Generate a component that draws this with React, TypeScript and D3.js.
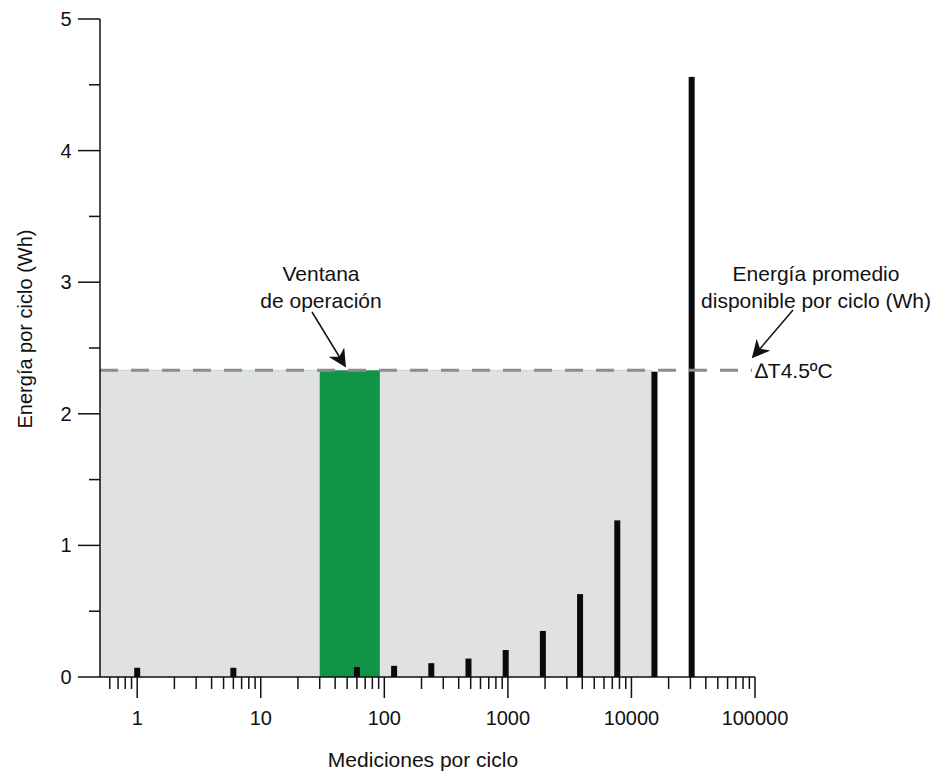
import React, { useEffect, useRef } from 'react';
import * as d3 from 'd3';

// mediciones por ciclo vs energía consumida por ciclo (Wh)
const measurements = [1, 6, 60, 120, 240, 480, 960, 1920, 3840, 7680, 15360, 30720];
const energy = [0.07, 0.07, 0.075, 0.085, 0.105, 0.14, 0.205, 0.35, 0.63, 1.19, 2.32, 4.56];
const availableEnergy = 2.33;
const operationWindow = [30, 92];
const xTickLabels = ['1', '10', '100', '1000', '10000', '100000'];
const yTickLabels = ['0', '1', '2', '3', '4', '5'];

const FONT = '"Liberation Sans", Arial, Helvetica, sans-serif';

const App: React.FC = () => {
  const svgRef = useRef<SVGSVGElement>(null);
  const width = 935;
  const height = 771;

  useEffect(() => {
    if (!svgRef.current) return;
    const svg = d3.select(svgRef.current);
    svg.selectAll('*').remove();

    const x = d3.scaleLog().domain([0.5, 100000]).range([100, 755]);
    const y = d3.scaleLinear().domain([0, 5]).range([677, 19]);

    const barW = 6;
    const data = measurements.map((m, i) => ({ m, e: energy[i] }));

    // área gris bajo la energía disponible
    svg.append('rect')
      .attr('x', x(0.5))
      .attr('y', y(availableEnergy))
      .attr('width', x(15360) - barW / 2 - x(0.5))
      .attr('height', y(0) - y(availableEnergy))
      .attr('fill', '#e0e1e1')
      .attr('stroke', '#c9d3e0')
      .attr('stroke-width', 1);

    // ventana de operación
    svg.append('rect')
      .attr('x', x(operationWindow[0]))
      .attr('y', y(availableEnergy))
      .attr('width', x(operationWindow[1]) - x(operationWindow[0]))
      .attr('height', y(0) - y(availableEnergy))
      .attr('fill', '#129447');

    // barras
    svg.selectAll('.bar')
      .data(data)
      .enter()
      .append('rect')
      .attr('class', 'bar')
      .attr('x', d => x(d.m) - barW / 2)
      .attr('y', d => y(d.e))
      .attr('width', barW)
      .attr('height', d => y(0) - y(d.e))
      .attr('fill', '#0a0a0a');

    // línea discontinua
    svg.append('line')
      .attr('x1', x(0.5))
      .attr('x2', 752)
      .attr('y1', y(availableEnergy))
      .attr('y2', y(availableEnergy))
      .attr('stroke', '#8c8c8c')
      .attr('stroke-width', 3)
      .attr('stroke-dasharray', '18,13');

    svg.append('text')
      .attr('x', 755)
      .attr('y', y(availableEnergy) + 8)
      .style('font-family', FONT)
      .style('font-size', '21px')
      .attr('fill', '#111')
      .text('\u2206T4.5ºC');

    // eje Y
    const yAxis = svg.append('g');
    yAxis.append('line')
      .attr('x1', 100).attr('x2', 100)
      .attr('y1', y(0)).attr('y2', y(5))
      .attr('stroke', '#111').attr('stroke-width', 1.5);
    d3.range(0, 5.01, 0.5).forEach(v => {
      const major = Number.isInteger(v);
      yAxis.append('line')
        .attr('x1', 100 - (major ? 22 : 11)).attr('x2', 100)
        .attr('y1', y(v)).attr('y2', y(v))
        .attr('stroke', '#111').attr('stroke-width', 1.5);
    });
    yTickLabels.forEach(t => {
      yAxis.append('text')
        .attr('x', 66)
        .attr('y', y(+t))
        .attr('dy', '0.35em')
        .attr('text-anchor', 'middle')
        .style('font-family', FONT)
        .style('font-size', '20px')
        .attr('fill', '#111')
        .text(t);
    });

    // eje X
    const xAxis = svg.append('g');
    xAxis.append('line')
      .attr('x1', x(0.5)).attr('x2', x(100000))
      .attr('y1', y(0)).attr('y2', y(0))
      .attr('stroke', '#111').attr('stroke-width', 1.5);
    const majors = xTickLabels.map(Number);
    x.ticks().filter(v => v > 0.5).forEach(v => {
      const major = majors.includes(v);
      xAxis.append('line')
        .attr('x1', x(v)).attr('x2', x(v))
        .attr('y1', y(0)).attr('y2', y(0) + (major ? 21 : 12))
        .attr('stroke', '#111').attr('stroke-width', 1.5);
    });
    xTickLabels.forEach(t => {
      xAxis.append('text')
        .attr('x', x(+t))
        .attr('y', 725)
        .attr('text-anchor', 'middle')
        .style('font-family', FONT)
        .style('font-size', '20px')
        .attr('fill', '#111')
        .text(t);
    });

    // títulos de ejes
    svg.append('text')
      .attr('transform', `translate(32, 329) rotate(-90)`)
      .attr('text-anchor', 'middle')
      .style('font-family', FONT)
      .style('font-size', '20px')
      .attr('fill', '#111')
      .text('Energía por ciclo (Wh)');

    svg.append('text')
      .attr('x', 423)
      .attr('y', 767)
      .attr('text-anchor', 'middle')
      .style('font-family', FONT)
      .style('font-size', '21px')
      .attr('fill', '#111')
      .text('Mediciones por ciclo');

    // anotaciones
    const defs = svg.append('defs');
    defs.append('marker')
      .attr('id', 'arrow')
      .attr('viewBox', '0 0 10 10')
      .attr('refX', 9).attr('refY', 5)
      .attr('markerWidth', 18).attr('markerHeight', 18)
      .attr('markerUnits', 'userSpaceOnUse')
      .attr('orient', 'auto')
      .append('path')
      .attr('d', 'M0,0 L10,5 L0,10 L3,5 Z')
      .attr('fill', '#111');

    const note = (lines: string[], cx: number, y0: number) => {
      lines.forEach((l, i) => {
        svg.append('text')
          .attr('x', cx)
          .attr('y', y0 + i * 27)
          .attr('text-anchor', 'middle')
          .style('font-family', FONT)
          .style('font-size', '21px')
          .attr('fill', '#111')
          .text(l);
      });
    };
    note(['Ventana', 'de operación'], 321, 281);
    note(['Energía promedio', 'disponible por ciclo (Wh)'], 816, 281);

    svg.append('line')
      .attr('x1', 312).attr('y1', 312)
      .attr('x2', 345).attr('y2', 366)
      .attr('stroke', '#111').attr('stroke-width', 1.5)
      .attr('marker-end', 'url(#arrow)');
    svg.append('line')
      .attr('x1', 793).attr('y1', 310)
      .attr('x2', 753).attr('y2', 357)
      .attr('stroke', '#111').attr('stroke-width', 1.5)
      .attr('marker-end', 'url(#arrow)');
  }, []);

  return (
    <svg
      ref={svgRef}
      width={width}
      height={height}
      style={{ position: 'absolute', left: 0, top: 0, background: '#fff' }}
    />
  );
};

export default App;
